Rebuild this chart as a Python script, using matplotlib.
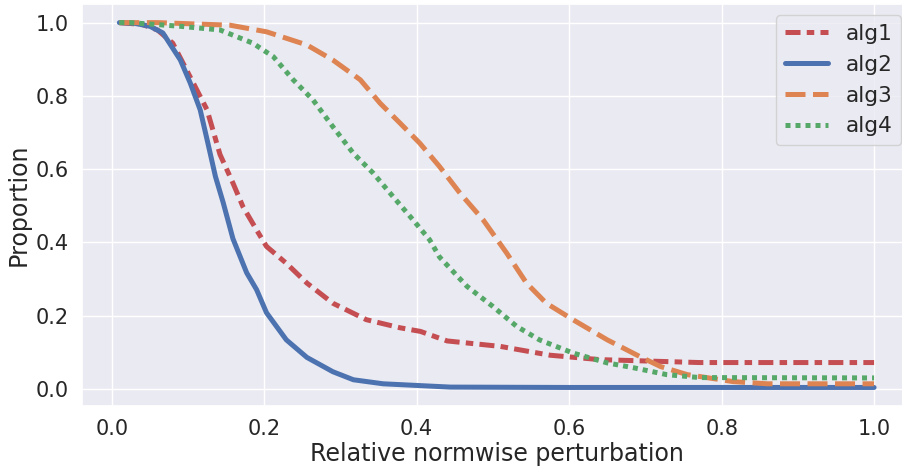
import numpy as np
import matplotlib
matplotlib.use('Agg')
import matplotlib.pyplot as plt
import seaborn as sns

sns.set_theme(style='darkgrid')
plt.rcParams['font.family'] = ['DejaVu Sans']

# values
x_alg1 = [0.01, 0.04, 0.06, 0.08, 0.107, 0.125, 0.142, 0.159, 0.172, 0.19, 0.203, 0.229,
          0.256, 0.29, 0.334, 0.378, 0.405, 0.44, 0.51, 0.575, 0.64, 0.771, 1.0]
y_alg1 = [1.0, 0.995, 0.98, 0.944, 0.835, 0.762, 0.64, 0.562, 0.498, 0.434, 0.389, 0.343,
          0.289, 0.234, 0.189, 0.167, 0.157, 0.131, 0.116, 0.092, 0.08, 0.072, 0.072]

x_alg2 = [0.01, 0.03, 0.05, 0.067, 0.09, 0.103, 0.116, 0.126, 0.136, 0.146, 0.159, 0.177,
          0.19, 0.203, 0.229, 0.256, 0.29, 0.317, 0.356, 0.444, 0.6, 1.0]
y_alg2 = [1.0, 0.998, 0.99, 0.972, 0.898, 0.835, 0.762, 0.672, 0.58, 0.51, 0.41, 0.317,
          0.271, 0.208, 0.134, 0.086, 0.047, 0.025, 0.014, 0.005, 0.004, 0.004]

x_alg3 = [0.01, 0.06, 0.155, 0.203, 0.256, 0.29, 0.326, 0.352, 0.378, 0.404, 0.43, 0.457,
          0.487, 0.518, 0.544, 0.57, 0.605, 0.65, 0.693, 0.72, 0.755, 0.815, 0.86, 1.0]
y_alg3 = [1.0, 1.0, 0.993, 0.975, 0.939, 0.898, 0.844, 0.78, 0.726, 0.671, 0.607, 0.534,
          0.462, 0.371, 0.289, 0.234, 0.189, 0.134, 0.088, 0.061, 0.039, 0.02, 0.014, 0.014]

x_alg4 = [0.01, 0.024, 0.09, 0.142, 0.185, 0.212, 0.238, 0.264, 0.29, 0.317, 0.343, 0.369,
          0.395, 0.417, 0.43, 0.466, 0.5, 0.531, 0.561, 0.605, 0.65, 0.684, 0.728, 0.771, 1.0]
y_alg4 = [1.0, 1.0, 0.99, 0.98, 0.944, 0.907, 0.844, 0.789, 0.716, 0.643, 0.589, 0.525,
          0.462, 0.407, 0.36, 0.28, 0.225, 0.171, 0.134, 0.098, 0.071, 0.058, 0.039, 0.031, 0.03]

lw = 3.6

fig = plt.figure(figsize=(9.02, 4.66), dpi=100)
ax = fig.add_axes([0.0905, 0.1294, 0.9204, 0.8612])

ax.plot(x_alg1, y_alg1, color='#C44E52', lw=lw, dashes=(3, 1.25, 1.5, 1.25), label='alg1')
ax.plot(x_alg2, y_alg2, color='#4C72B0', lw=lw, label='alg2')
ax.plot(x_alg3, y_alg3, color='#DD8452', lw=lw, dashes=(4, 1.5), label='alg3')
ax.plot(x_alg4, y_alg4, color='#55A868', lw=lw, dashes=(1, 1), label='alg4')

ax.set_xlabel('Relative normwise perturbation', fontsize=17.1, labelpad=2.5)
ax.set_ylabel('Proportion', fontsize=17.1, labelpad=3)
ax.tick_params(labelsize=15)
ax.legend(loc='upper right', fontsize=15.6)

fig.savefig('out.png', dpi=100)
